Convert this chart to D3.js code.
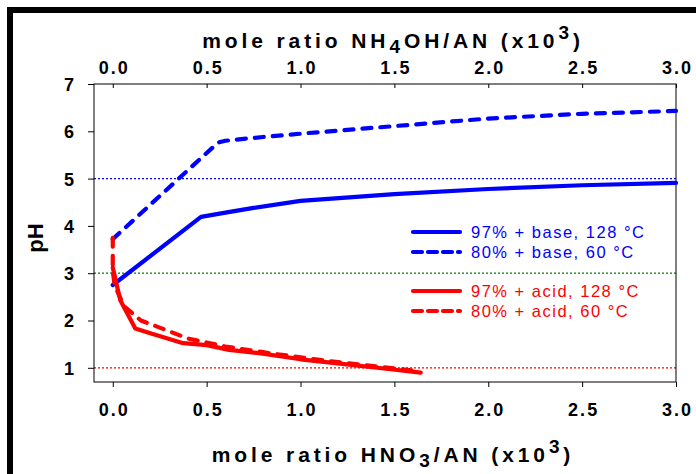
<!DOCTYPE html>
<html><head><meta charset="utf-8">
<script src="https://cdn.jsdelivr.net/npm/d3@7"></script>
<style>
html,body{margin:0;padding:0;background:#fff;}
svg{display:block;}
</style></head>
<body>
<script>
// ---- data ----
const xTicks = [0.0, 0.5, 1.0, 1.5, 2.0, 2.5, 3.0];
const yTicks = [1, 2, 3, 4, 5, 6, 7];
const refLevels = [5, 3, 1];
const refColors = ["#0000ff", "#008000", "#ff0000"];

const base97X = [0, 0.47, 0.6, 0.75, 1.0, 1.5, 2.0, 2.5, 3.0];
const base97Y = [2.75, 4.19, 4.28, 4.38, 4.53, 4.67, 4.78, 4.86, 4.91];

const base80X = [0, 0.56, 0.6, 0.8, 1.0, 1.5, 2.0, 2.5, 3.0];
const base80Y = [3.72, 5.76, 5.80, 5.88, 5.95, 6.11, 6.27, 6.37, 6.43];

const acid97X = [0, 0.04, 0.12, 0.2, 0.375, 0.5, 0.62, 0.78, 1.0, 1.21, 1.48, 1.64];
const acid97Y = [3.12, 2.43, 1.83, 1.73, 1.52, 1.48, 1.38, 1.31, 1.18, 1.09, 0.97, 0.90];

const acid80X = [0, 0, 0.01, 0.06, 0.15, 0.25, 0.4, 0.6, 0.8, 1.0, 1.2, 1.4, 1.6];
const acid80Y = [3.75, 3.05, 2.75, 2.3, 2.0, 1.85, 1.62, 1.45, 1.33, 1.22, 1.12, 1.03, 0.94];

const seriesNames = ["97% + base, 128 °C", "80% + base, 60 °C", "97% + acid, 128 °C", "80% + acid, 60 °C"];
const seriesColors = ["#0000ff", "#0000ff", "#ff0000", "#ff0000"];
const seriesDashed = [false, true, false, true];

// ---- layout ----
const W = 696, H = 474;
const L = 94, R = 676, T = 84, B = 382;

const svg = d3.select("body").append("svg").attr("width", W).attr("height", H);
const font = "'Liberation Sans', Arial, Helvetica, sans-serif";

const x = d3.scaleLinear().domain([-0.1, 3.0]).range([L, R]);
const y = d3.scaleLinear().domain([0.7, 7]).range([B, T]);

// outer black border (top & left)
svg.append("rect").attr("x", 7).attr("y", 7).attr("width", W - 7).attr("height", 6).attr("fill", "#000");
svg.append("rect").attr("x", 7).attr("y", 7).attr("width", 6).attr("height", H - 7).attr("fill", "#000");

// reference dotted lines
svg.append("g").selectAll("line").data(refLevels).join("line")
  .attr("x1", L).attr("x2", R)
  .attr("y1", d => y(d)).attr("y2", d => y(d))
  .attr("stroke", (d, i) => refColors[i]).attr("stroke-width", 1.2)
  .attr("stroke-dasharray", "2,2");

// frame
svg.append("rect").attr("x", L).attr("y", T).attr("width", R - L).attr("height", B - T)
  .attr("fill", "none").attr("stroke", "#000").attr("stroke-width", 1);

// axes
const fmt = d3.format(".1f");
const gB = svg.append("g").attr("transform", `translate(0,${B})`)
  .call(d3.axisBottom(x).tickValues(xTicks).tickFormat(fmt).tickSize(5).tickPadding(16));
const gT = svg.append("g").attr("transform", `translate(0,${T})`)
  .call(d3.axisTop(x).tickValues(xTicks).tickFormat(fmt).tickSize(-4).tickPadding(10));
const gL = svg.append("g").attr("transform", `translate(${L},0)`)
  .call(d3.axisLeft(y).tickValues(yTicks).tickFormat(d3.format("d")).tickSize(6).tickPadding(14));
[gB, gT, gL].forEach(g => {
  g.select(".domain").remove();
  g.selectAll(".tick line").attr("stroke", "#000");
  g.selectAll("text").attr("font-family", font).attr("font-weight", "bold")
    .attr("font-size", 18).attr("fill", "#000");
});
gB.selectAll("text").attr("letter-spacing", 2).attr("dx", 1);
gT.selectAll("text").attr("letter-spacing", 2).attr("dx", 1);
gL.selectAll("text").attr("dy", "0.36em");

// axis titles
function title(yPos, main, sub) {
  const t = svg.append("text").attr("x", (L + R) / 2 + 8).attr("y", yPos)
    .attr("text-anchor", "middle").attr("font-family", font).attr("font-weight", "bold")
    .attr("font-size", 21).attr("letter-spacing", 3.9).attr("fill", "#000");
  t.append("tspan").text(main[0]);
  t.append("tspan").attr("font-size", 19).attr("dy", 5).text(sub);
  t.append("tspan").attr("dy", -5).text(main[1]);
  t.append("tspan").attr("font-size", 19).attr("dy", -9).text("3");
  t.append("tspan").attr("dy", 9).text(")");
}
title(48, ["mole ratio NH", "OH/AN (x10"], "4");
title(462, ["mole ratio HNO", "/AN (x10"], "3");

svg.append("text").attr("transform", `translate(43,238) rotate(-90)`)
  .attr("text-anchor", "middle").attr("font-family", font).attr("font-weight", "bold")
  .attr("font-size", 22).attr("fill", "#000").text("pH");

// series
const series = [
  [base97X, base97Y], [base80X, base80Y], [acid97X, acid97Y], [acid80X, acid80Y]
];
const line = d3.line().x(d => x(d[0])).y(d => y(d[1]));
series.forEach((s, i) => {
  const pts = s[0].map((v, k) => [v, s[1][k]]);
  svg.append("path").datum(pts).attr("d", line)
    .attr("fill", "none").attr("stroke", seriesColors[i]).attr("stroke-width", 4.2)
    .attr("stroke-linejoin", "round")
    .attr("stroke-linecap", "round")
    .attr("stroke-dasharray", seriesDashed[i] ? "9,9" : null);
});

// legend
const legY = [232, 252, 291, 311];
const lg = svg.append("g");
seriesNames.forEach((n, i) => {
  lg.append("line").attr("x1", 413).attr("x2", 460).attr("y1", legY[i]).attr("y2", legY[i])
    .attr("stroke", seriesColors[i]).attr("stroke-width", 4.2)
    .attr("stroke-linecap", "round")
    .attr("stroke-dasharray", seriesDashed[i] ? "9,6" : null);
  lg.append("text").attr("x", 471).attr("y", legY[i] + 6)
    .attr("font-family", font).attr("font-size", 16.5).attr("letter-spacing", 1.5)
    .attr("fill", seriesColors[i]).text(n);
});
</script>
</body></html>
